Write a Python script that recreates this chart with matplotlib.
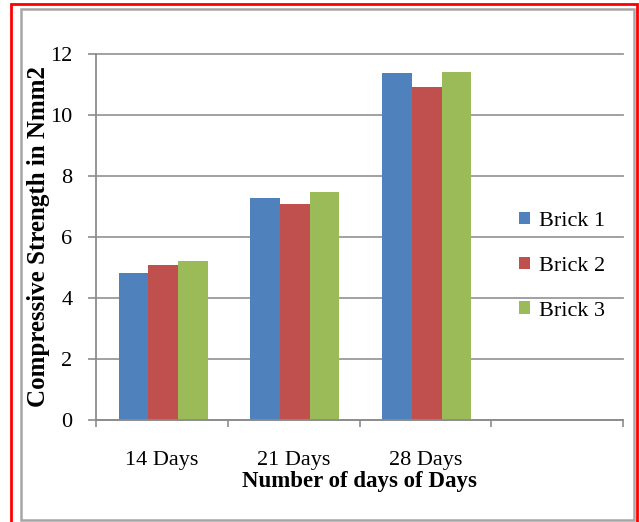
import numpy as np
import matplotlib
matplotlib.use("Agg")
import matplotlib.pyplot as plt
from matplotlib.patches import Rectangle, Patch

plt.rcParams['font.family'] = ['Liberation Serif', 'DejaVu Serif']

# compressive strength (N/mm2) per curing age
categories = ['14 Days', '21 Days', '28 Days']
brick1 = [4.81, 7.29, 11.36]
brick2 = [5.08, 7.08, 10.92]
brick3 = [5.22, 7.49, 11.40]
series_names = ['Brick 1', 'Brick 2', 'Brick 3']
colors = ['#4F81BD', '#C0504D', '#9BBB59']
yticks = [0, 2, 4, 6, 8, 10, 12]

axis_grey = '#8C8C8C'
fs = 16

fig = plt.figure(figsize=(6.39, 5.22), dpi=100)
ax = fig.add_axes([0.1502, 0.1954, 0.975 - 0.1502, 0.8966 - 0.1954])

x = np.arange(len(categories))
width = 0.225
for i, (vals, name, c) in enumerate(zip([brick1, brick2, brick3], series_names, colors)):
    ax.bar(x + (i - 1) * width + 0.01, vals, width, color=c, label=name, zorder=2)

# four category slots, the last one is left empty
ax.set_xlim(-0.5, 3.5)
ax.set_ylim(0, 12)
ax.set_xticks(np.arange(-0.5, 4.0, 1.0))
ax.set_xticklabels([])
ax.set_xticks(x, minor=True)
ax.set_xticklabels(categories, minor=True, fontsize=fs)
ax.tick_params(axis='x', which='major', length=5, width=1.2, color=axis_grey, direction='out')
ax.tick_params(axis='x', which='minor', length=0, pad=22)
ax.set_yticks(yticks)
ax.set_yticklabels([str(t) for t in yticks], fontsize=fs)
ax.tick_params(axis='y', length=6, width=1.2, color=axis_grey, pad=11)

ax.yaxis.grid(True, color='#9A9A9A', linewidth=1.3, zorder=1)
for gl in ax.get_ygridlines():
    gl.set_clip_on(False)
ax.set_axisbelow(True)

for side in ['top', 'right']:
    ax.spines[side].set_visible(False)
for side in ['left', 'bottom']:
    ax.spines[side].set_color(axis_grey)
    ax.spines[side].set_linewidth(1.3)

ax.set_xlabel('Number of days of Days', fontsize=fs + 0.5, fontweight='bold', labelpad=1)
ax.set_ylabel('Compressive Strength in Nmm2', fontsize=18, fontweight='bold', labelpad=0)

handles = [Patch(facecolor=c, edgecolor='none') for c in colors]
fig.legend(handles, series_names, loc='center left', bbox_to_anchor=(0.812, 0.49),
           frameon=False, fontsize=fs, handlelength=0.5, handleheight=0.5,
           handletextpad=0.4, labelspacing=1.15, borderpad=0, borderaxespad=0)

# chart area border and outer red frame
fig.add_artist(Rectangle((0.0324, 0.0029), 0.9922 - 0.0324, 0.9828 - 0.0029,
                         transform=fig.transFigure, fill=False,
                         edgecolor='#A6A6A6', linewidth=1.8))
fig.add_artist(Rectangle((0.0168, -0.05), 0.9975 - 0.0168, 0.9923 + 0.05,
                         transform=fig.transFigure, fill=False,
                         edgecolor='#FF0000', linewidth=2.0))

fig.savefig('out.png', dpi=100)
